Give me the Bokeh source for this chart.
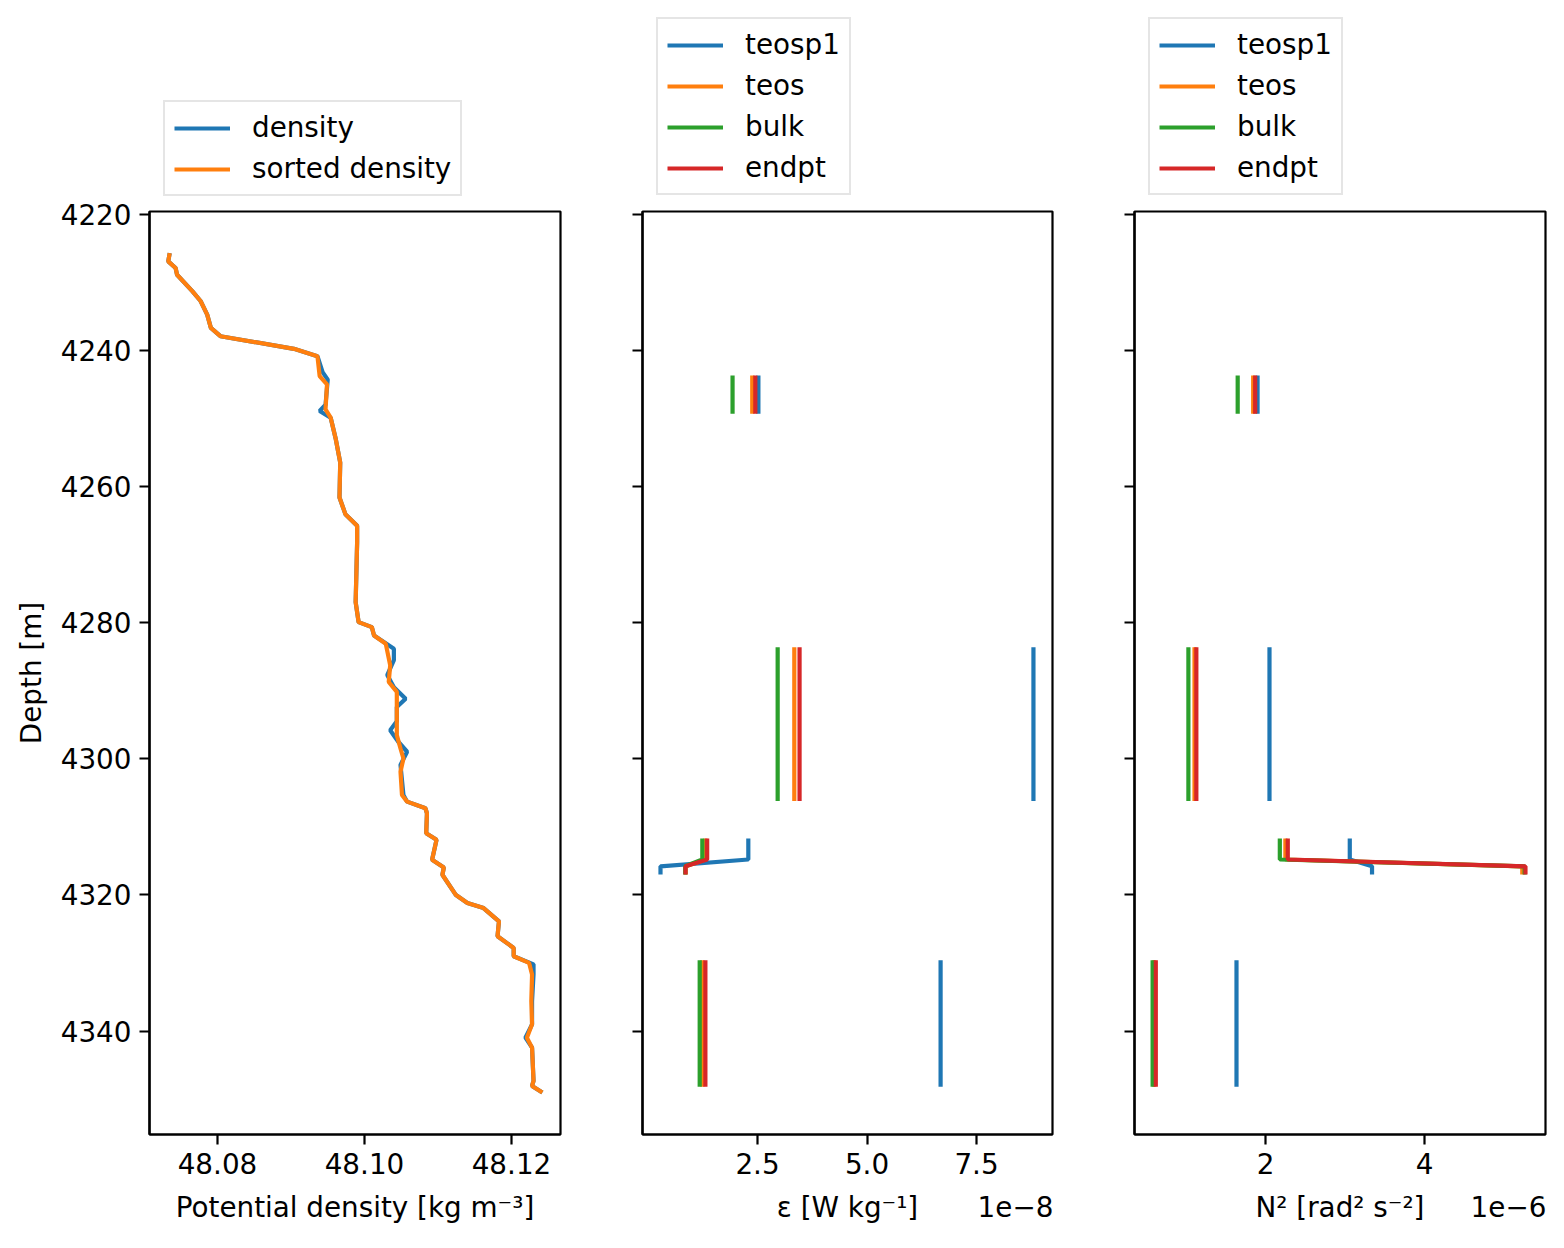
import numpy as np
from bokeh.plotting import figure
from bokeh.layouts import row, column
from bokeh.models import (Range1d, FixedTicker, CustomJSTickFormatter, Legend,
                          LegendItem, LinearAxis)
from bokeh.embed import file_html
from bokeh.resources import INLINE

# ---------------- data ----------------
sorted_depth = [4225.71, 4226.93, 4227.91, 4228.89, 4231.33, 4232.75, 4234.75, 4236.70,
                4237.92, 4239.78, 4240.85, 4243.78, 4245.01, 4248.67, 4249.89, 4253.07,
                4256.48, 4261.61, 4264.06, 4265.76, 4268.21, 4277.00, 4279.93, 4280.66,
                4281.88, 4283.11, 4286.27, 4288.72, 4290.18, 4296.53, 4298.49, 4299.96,
                4301.90, 4305.32, 4306.30, 4307.28, 4308.01, 4310.95, 4311.91, 4314.84,
                4315.97, 4317.04, 4319.97, 4321.20, 4321.93, 4323.88, 4326.08, 4327.79,
                4329.01, 4329.99, 4331.69, 4335.60, 4339.02, 4340.98, 4342.45, 4347.33,
                4348.06, 4349.04]
sorted_density = [48.0735, 48.0733, 48.0743, 48.0745, 48.0766, 48.0777, 48.0786, 48.0791,
                  48.0804, 48.0904, 48.0936, 48.0939, 48.0949, 48.0947, 48.0954, 48.0961,
                  48.0967, 48.0966, 48.0974, 48.0990, 48.0990, 48.0988, 48.0992, 48.1010,
                  48.1013, 48.1029, 48.1035, 48.1033, 48.1044, 48.1044, 48.1049, 48.1053,
                  48.1049, 48.1051, 48.1058, 48.1083, 48.1085, 48.1084, 48.1098, 48.1092,
                  48.1108, 48.1106, 48.1124, 48.1140, 48.1162, 48.1183, 48.1181, 48.1203,
                  48.1203, 48.1224, 48.1228, 48.1227, 48.1228, 48.1221, 48.1228, 48.1230,
                  48.1228, 48.1242]

density_depth = [4225.71, 4226.93, 4227.91, 4228.89, 4231.33, 4232.75, 4234.75, 4236.70,
                 4237.92, 4239.78, 4240.85, 4243.20, 4244.30, 4248.00, 4248.90, 4249.89,
                 4253.07, 4256.48, 4261.61, 4264.06, 4265.76, 4268.21, 4277.00, 4279.93,
                 4280.66, 4281.88, 4283.84, 4285.50, 4287.70, 4289.50, 4291.17, 4292.40,
                 4294.50, 4295.80, 4297.50, 4298.97, 4300.90, 4305.32, 4306.30, 4307.28,
                 4308.01, 4310.95, 4311.91, 4314.84, 4315.97, 4317.04, 4319.97, 4321.20,
                 4321.93, 4323.88, 4326.08, 4327.79, 4329.01, 4330.20, 4331.69, 4335.60,
                 4339.02, 4340.98, 4342.45, 4347.33, 4348.06, 4349.04]
density = [48.0735, 48.0733, 48.0743, 48.0745, 48.0766, 48.0777, 48.0786, 48.0791,
           48.0804, 48.0904, 48.0936, 48.0943, 48.0950, 48.0947, 48.0939, 48.0954,
           48.0961, 48.0967, 48.0966, 48.0974, 48.0990, 48.0990, 48.0988, 48.0992,
           48.1010, 48.1013, 48.1040, 48.1040, 48.1031, 48.1040, 48.1056, 48.1044,
           48.1044, 48.1035, 48.1046, 48.1058, 48.1049, 48.1053, 48.1058, 48.1083,
           48.1085, 48.1084, 48.1098, 48.1092, 48.1108, 48.1106, 48.1124, 48.1140,
           48.1162, 48.1183, 48.1181, 48.1203, 48.1203, 48.1230, 48.1230, 48.1228,
           48.1228, 48.1219, 48.1228, 48.1230, 48.1228, 48.1242]

# segment depth bounds (segments 3 and 4 are contiguous)
seg_top = [4243.7, 4283.6, 4311.7, 4315.8, 4329.6]
seg_bottom = [4249.3, 4306.2, 4314.8, 4317.0, 4348.2]
seg_joined = [False, False, False, True, False]  # joined to previous segment

series_names = ["teosp1", "teos", "bulk", "endpt"]
eps_teosp1 = [2.52e-8, 8.80e-8, 2.29e-8, 0.285e-8, 6.68e-8]
eps_teos = [2.38e-8, 3.34e-8, 1.31e-8, 0.86e-8, 1.24e-8]
eps_bulk = [1.93e-8, 2.96e-8, 1.24e-8, 0.85e-8, 1.18e-8]
eps_endpt = [2.45e-8, 3.46e-8, 1.35e-8, 0.856e-8, 1.31e-8]

n2_teosp1 = [1.90e-6, 2.05e-6, 3.06e-6, 3.34e-6, 1.635e-6]
n2_teos = [1.845e-6, 1.107e-6, 2.25e-6, 5.23e-6, 0.60e-6]
n2_bulk = [1.65e-6, 1.03e-6, 2.18e-6, 5.26e-6, 0.58e-6]
n2_endpt = [1.87e-6, 1.13e-6, 2.28e-6, 5.27e-6, 0.62e-6]

colors = ["#1f77b4", "#ff7f0e", "#2ca02c", "#d62728"]
FONT = "DejaVu Sans"
FS = "27.8px"
LW = 4.2
Y_BOTTOM, Y_TOP = 4355.2, 4219.6
LEG_H = 197


def step_line(vals):
    xs, ys = [], []
    for i, v in enumerate(vals):
        if i > 0 and not seg_joined[i]:
            xs.append(np.nan)
            ys.append(np.nan)
        xs += [v, v]
        ys += [seg_top[i], seg_bottom[i]]
    return np.array(xs, dtype=float), np.array(ys, dtype=float)


def style_axis(ax):
    ax.axis_line_width = 2.2
    ax.major_tick_line_width = 2.2
    ax.major_tick_out = 10
    ax.major_tick_in = 0
    ax.minor_tick_line_color = None
    ax.major_label_text_font = FONT
    ax.major_label_text_font_size = FS
    ax.major_label_text_color = "black"
    ax.axis_label_text_font = FONT
    ax.axis_label_text_font_size = FS
    ax.axis_label_text_font_style = "normal"
    ax.axis_label_text_color = "black"
    ax.major_label_standoff = 8


def make_fig(xr, fw, bl, br, show_ylabels):
    p = figure(frame_width=fw, frame_height=923, x_range=xr,
               y_range=Range1d(Y_BOTTOM, Y_TOP),
               min_border_left=bl, min_border_right=br, min_border_top=211 - LEG_H,
               min_border_bottom=114, output_backend="svg", toolbar_location=None,
               background_fill_color="white", border_fill_color="white")
    p.grid.grid_line_color = None
    p.outline_line_color = "black"
    p.outline_line_width = 2.2
    style_axis(p.xaxis[0])
    style_axis(p.yaxis[0])
    p.yaxis.ticker = FixedTicker(ticks=[4220, 4240, 4260, 4280, 4300, 4320, 4340])
    if show_ylabels:
        p.yaxis.axis_label = "Depth [m]"
        p.yaxis.axis_label_standoff = 10
    else:
        p.yaxis.formatter = CustomJSTickFormatter(code="return '';")
        p.yaxis.major_label_standoff = 0
    return p


def label_axis(p, xr, fw, label, offset_text):
    # second (tick-less) axis row holding the axis title and the offset text
    centre = (xr.start + xr.end) / 2
    per_px = (xr.end - xr.start) / fw
    ticks = [centre]
    labels = [label]
    if offset_text:
        ticks.append(xr.end - 37 * per_px)
        labels.append(offset_text)
    ax = LinearAxis(ticker=FixedTicker(ticks=ticks),
                    formatter=CustomJSTickFormatter(args=dict(labels=labels),
                                                    code="return labels[index];"))
    style_axis(ax)
    ax.axis_line_color = None
    ax.major_tick_line_color = None
    ax.major_tick_out = 0
    ax.major_label_standoff = 14
    p.add_layout(ax, "below")


def legend_fig(width, names, vy):
    """A small companion canvas above a panel that only holds its legend."""
    q = figure(width=width, height=LEG_H, x_range=Range1d(0, 1), y_range=Range1d(0, 1),
               x_axis_type=None, y_axis_type=None, output_backend="svg",
               toolbar_location=None, min_border=0, outline_line_color=None,
               background_fill_color="white", border_fill_color="white")
    q.grid.grid_line_color = None
    items = []
    for name, c in zip(names, colors):
        # legend key only: a line with a single undefined point draws nothing
        r = q.line([np.nan], [np.nan], line_color=c, line_width=LW)
        items.append(LegendItem(label=name, renderers=[r]))
    leg = Legend(items=items, location=(14, vy), orientation="vertical",
                 label_text_font=FONT, label_text_font_size=FS,
                 label_text_color="black",
                 glyph_width=56, glyph_height=28, label_height=28,
                 label_standoff=22, spacing=8, padding=9, margin=0,
                 border_line_color="#cccccc", border_line_width=2,
                 background_fill_color="white", background_fill_alpha=0.8)
    q.add_layout(leg)
    return q


# ---------------- panel 1 ----------------
x1 = Range1d(48.07075, 48.12667)
p1 = make_fig(x1, 411, 149, 41, True)
p1.line(density, density_depth, line_color=colors[0], line_width=LW)
p1.line(sorted_density, sorted_depth, line_color=colors[1], line_width=LW)
p1.xaxis.ticker = FixedTicker(ticks=[48.08, 48.10, 48.12])
p1.xaxis.formatter = CustomJSTickFormatter(code="return tick.toFixed(2);")
label_axis(p1, x1, 411, "Potential density [kg m⁻³]", "")
l1 = legend_fig(601, ["density", "sorted density"], 1)

# ---------------- panel 2 ----------------
x2 = Range1d(-0.126e-8, 9.235e-8)
p2 = make_fig(x2, 410, 41, 41, False)
eps_all = [eps_teosp1, eps_teos, eps_bulk, eps_endpt]
for vals, c in zip(eps_all, colors):
    xs, ys = step_line(vals)
    p2.line(xs, ys, line_color=c, line_width=LW)
p2.xaxis.ticker = FixedTicker(ticks=[2.5e-8, 5.0e-8, 7.5e-8])
p2.xaxis.formatter = CustomJSTickFormatter(code="return (tick*1e8).toFixed(1);")
label_axis(p2, x2, 410, "ε [W kg⁻¹]", "1e−8")
l2 = legend_fig(492, series_names, 2)

# ---------------- panel 3 ----------------
x3 = Range1d(0.352e-6, 5.522e-6)
p3 = make_fig(x3, 411, 41, 19, False)
n2_all = [n2_teosp1, n2_teos, n2_bulk, n2_endpt]
for vals, c in zip(n2_all, colors):
    xs, ys = step_line(vals)
    p3.line(xs, ys, line_color=c, line_width=LW)
p3.xaxis.ticker = FixedTicker(ticks=[2e-6, 4e-6])
p3.xaxis.formatter = CustomJSTickFormatter(code="return (tick*1e6).toFixed(0);")
label_axis(p3, x3, 411, "N² [rad² s⁻²]", "1e−6")
l3 = legend_fig(471, series_names, 2)

layout = row(column(l1, p1, spacing=0), column(l2, p2, spacing=0),
             column(l3, p3, spacing=0), spacing=0)
open("out.html", "w").write(file_html(layout, INLINE))
